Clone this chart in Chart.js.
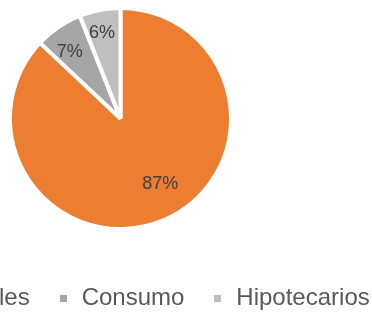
<!DOCTYPE html>
<html>
<head>
    <title>Cartera por tipo</title>
    <script src="https://cdn.jsdelivr.net/npm/chart.js"></script>
    <style>
        html, body {
            margin: 0;
            padding: 0;
            width: 372px;
            height: 312px;
            overflow: hidden;
            background: #fff;
        }
        /* chart is wider than the window, legend gets clipped on the left like the original */
        .chart-wrap {
            position: absolute;
            left: -180px;
            top: 0;
            width: 601px;
            height: 320px;
        }
    </style>
</head>
<body>
    <div class="chart-wrap">
        <canvas id="pieChart"></canvas>
    </div>

    <script>
        const categories = ['Comerciales', 'Consumo', 'Hipotecarios'];
        const shares = [87, 7, 6];
        const sliceLabels = ['87%', '7%', '6%'];
        const colors = ['#ED7D31', '#A5A5A5', '#BFBFBF'];

        // where each % label sits: fraction of radius, small angle nudge (deg)
        const labelRadius = [0.69, 0.76, 0.79];
        const labelNudge = [-8, -3, -1.4];

        function squareMarker(color) {
            const c = document.createElement('canvas');
            c.width = 7;
            c.height = 7;
            const g = c.getContext('2d');
            g.fillStyle = color;
            g.fillRect(0, 0, 7, 7);
            return c;
        }

        const sliceLabelPlugin = {
            id: 'sliceLabels',
            afterDatasetsDraw(chart) {
                const ctx = chart.ctx;
                const meta = chart.getDatasetMeta(0);
                ctx.save();
                ctx.font = '18px "Liberation Sans", Arial, sans-serif';
                ctx.fillStyle = '#404040';
                ctx.textAlign = 'center';
                ctx.textBaseline = 'middle';
                meta.data.forEach((arc, i) => {
                    const p = arc.getProps(['x', 'y', 'startAngle', 'endAngle', 'outerRadius'], true);
                    const mid = (p.startAngle + p.endAngle) / 2 + labelNudge[i] * Math.PI / 180;
                    const r = p.outerRadius * labelRadius[i];
                    ctx.fillText(sliceLabels[i], p.x + Math.cos(mid) * r, p.y + Math.sin(mid) * r);
                });
                ctx.restore();
            }
        };

        const ctx = document.getElementById('pieChart').getContext('2d');
        const chart = new Chart(ctx, {
            type: 'pie',
            data: {
                labels: categories,
                datasets: [{
                    data: shares,
                    backgroundColor: colors,
                    borderColor: '#ffffff',
                    borderWidth: 4
                }]
            },
            options: {
                responsive: true,
                maintainAspectRatio: false,
                animation: false,
                layout: {
                    padding: { top: 6, bottom: 0, left: 0, right: 0 }
                },
                plugins: {
                    tooltip: { enabled: false },
                    legend: {
                        position: 'bottom',
                        title: {
                            display: true,
                            text: ' ',
                            font: { size: 10 },
                            padding: { top: 0, bottom: 16 }
                        },
                        labels: {
                            color: '#595959',
                            font: { family: '"Liberation Sans", Arial, sans-serif', size: 24 },
                            usePointStyle: true,
                            pointStyleWidth: 13,
                            padding: 27,
                            generateLabels(chart) {
                                const items = Chart.overrides.pie.plugins.legend.labels.generateLabels(chart);
                                items.forEach(it => { it.pointStyle = squareMarker(it.fillStyle); });
                                return items;
                            }
                        }
                    }
                }
            },
            plugins: [sliceLabelPlugin]
        });
    </script>
</body>
</html>
